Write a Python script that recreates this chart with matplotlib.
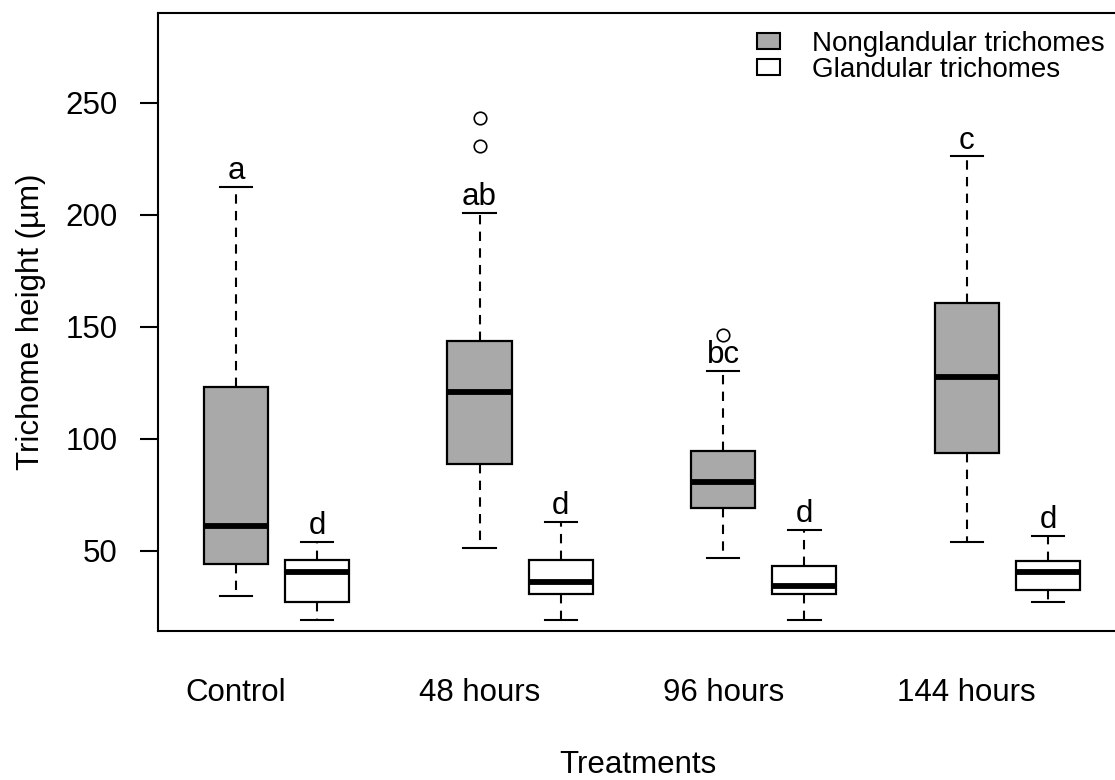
import numpy as np
import matplotlib.pyplot as plt
from matplotlib.patches import Patch

plt.rcParams['font.family'] = ['Liberation Sans', 'DejaVu Sans']

treatments = ['Control', '48 hours', '96 hours', '144 hours']

# five number summaries (lower whisker, Q1, median, Q3, upper whisker) in um
nonglandular_lo = [29.8, 51.2, 46.7, 53.9]
nonglandular_q1 = [44.1, 88.7, 69.1, 93.5]
nonglandular_med = [61.2, 120.9, 80.8, 127.5]
nonglandular_q3 = [122.9, 143.5, 94.4, 160.6]
nonglandular_hi = [212.2, 200.9, 130.1, 226.0]
nonglandular_out = [[], [230.5, 243.0], [146.5], []]

glandular_lo = [19.1, 19.1, 19.1, 27.0]
glandular_q1 = [27.0, 30.7, 30.5, 32.5]
glandular_med = [40.6, 36.0, 34.2, 40.6]
glandular_q3 = [46.0, 46.0, 43.3, 45.3]
glandular_hi = [54.0, 62.9, 59.4, 56.5]

# letters from the post hoc test
nonglandular_letters = ['a', 'ab', 'bc', 'c']
glandular_letters = ['d', 'd', 'd', 'd']


def make_stats(lo, q1, med, q3, hi, out=None):
    stats = []
    for i in range(len(lo)):
        stats.append({'whislo': lo[i], 'q1': q1[i], 'med': med[i], 'q3': q3[i],
                      'whishi': hi[i], 'fliers': out[i] if out else []})
    return stats


ng_stats = make_stats(nonglandular_lo, nonglandular_q1, nonglandular_med,
                      nonglandular_q3, nonglandular_hi, nonglandular_out)
g_stats = make_stats(glandular_lo, glandular_q1, glandular_med,
                     glandular_q3, glandular_hi)

ng_pos = np.arange(len(treatments)) * 3 + 1
g_pos = ng_pos + 1

fig = plt.figure(figsize=(11.15, 7.8), dpi=100)
ax = fig.add_axes([158 / 1115, 1 - 631 / 780, 959 / 1115, 618 / 780])

box_kw = dict(widths=0.79, capwidths=0.4, patch_artist=True, manage_ticks=False,
              whiskerprops=dict(color='black', lw=1.5, linestyle=(0, (4.5, 3.5))),
              capprops=dict(color='black', lw=1.5),
              medianprops=dict(color='black', lw=4.2, solid_capstyle='butt'),
              flierprops=dict(marker='o', markerfacecolor='none', markeredgecolor='black',
                              markersize=9, markeredgewidth=1.2))

ax.bxp(ng_stats, positions=ng_pos,
       boxprops=dict(facecolor='#a9a9a9', edgecolor='black', lw=1.6), **box_kw)
ax.bxp(g_stats, positions=g_pos,
       boxprops=dict(facecolor='white', edgecolor='black', lw=1.6), **box_kw)

# group letters just above the upper whiskers
for i in range(len(treatments)):
    ax.text(ng_pos[i], nonglandular_hi[i] + 3.5, nonglandular_letters[i],
            ha='center', va='baseline', fontsize=22.5)
    ax.text(g_pos[i], glandular_hi[i] + 3.5, glandular_letters[i],
            ha='center', va='baseline', fontsize=22.5)

ax.set_xlim(0.04, 11.85)
ax.set_ylim(14.2, 290)
ax.set_yticks([50, 100, 150, 200, 250])
ax.set_xticks(ng_pos)
ax.set_xticklabels(treatments)
ax.tick_params(axis='y', labelsize=22.5, length=13, width=1.5, pad=16)
ax.tick_params(axis='x', labelsize=22.5, length=0, pad=34)
for side in ax.spines.values():
    side.set_linewidth(1.5)

ax.set_ylabel('Trichome height (µm)', fontsize=22.5)
ax.yaxis.set_label_coords(-0.117, 0.5)
ax.set_xlabel('Treatments', fontsize=22.5)
ax.xaxis.set_label_coords(0.5, -0.192)

handles = [Patch(facecolor='#a9a9a9', edgecolor='black', lw=1.5),
           Patch(facecolor='white', edgecolor='black', lw=1.5)]
ax.legend(handles, ['Nonglandular trichomes', 'Glandular trichomes'],
          loc='upper left', bbox_to_anchor=(757 / 1115, 1 - 31 / 780),
          bbox_transform=fig.transFigure, frameon=False, fontsize=20,
          handlelength=0.83, handleheight=0.5, handletextpad=1.15,
          labelspacing=0.0, borderpad=0, borderaxespad=0)

fig.savefig('out.png', dpi=100)
